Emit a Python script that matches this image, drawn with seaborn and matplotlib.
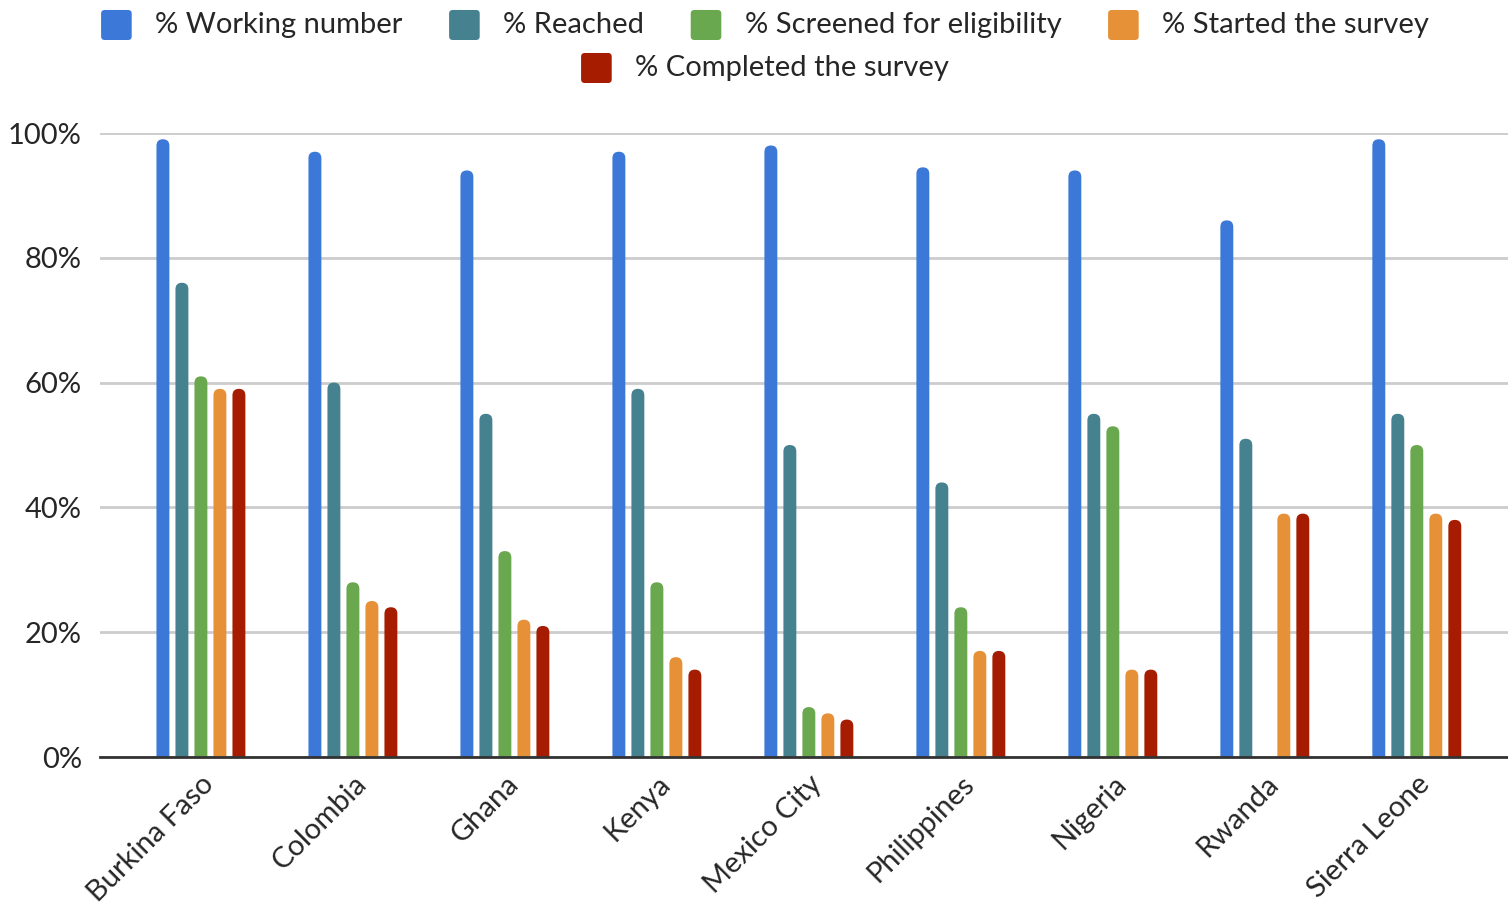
import numpy as np
import pandas as pd
import matplotlib
matplotlib.use("Agg")
import matplotlib.pyplot as plt
import seaborn as sns
from matplotlib.patches import FancyBboxPatch, Patch
from matplotlib.legend_handler import HandlerPatch

countries = ["Burkina Faso", "Colombia", "Ghana", "Kenya", "Mexico City",
             "Philippines", "Nigeria", "Rwanda", "Sierra Leone"]
series = ["% Working number", "% Reached", "% Screened for eligibility",
          "% Started the survey", "% Completed the survey"]

working = [99, 97, 94, 97, 98, 94.5, 94, 86, 99]
reached = [76, 60, 55, 59, 50, 44, 55, 51, 55]
screened = [61, 28, 33, 28, 8, 24, 53, np.nan, 50]
started = [59, 25, 22, 16, 7, 17, 14, 39, 39]
completed = [59, 24, 21, 14, 6, 17, 14, 39, 38]

colors = ["#3c78d8", "#45818e", "#6aa84f", "#e69138", "#a61c00"]

values = [working, reached, screened, started, completed]
df = pd.DataFrame({
    "country": np.repeat([countries], len(series), axis=0).ravel(),
    "series": np.repeat(series, len(countries)),
    "value": np.concatenate(values),
})

sns.set_theme(style="white")
plt.rcParams["font.family"] = ["Lato", "DejaVu Sans"]
text_color = "#262626"

fig = plt.figure(figsize=(15.08, 9.10), dpi=100)
ax = fig.add_axes([100 / 1508, 1 - 757 / 910, 1408 / 1508, (757 - 133) / 910])

sns.barplot(data=df, x="country", y="value", hue="series", order=countries,
            hue_order=series, palette=colors, width=0.625, gap=0.32,
            legend=False, ax=ax, saturation=1)

ax.set_xlim(-0.664, 8.6)
ax.set_ylim(0, 100)

# round off the top of each bar
px_per_x = 152.0
px_per_y = 6.24
for bar in list(ax.patches):
    h = bar.get_height()
    if not np.isfinite(h) or h <= 0:
        bar.remove()
        continue
    x, w = bar.get_x(), bar.get_width()
    r_x = w / 2
    aspect = px_per_x / px_per_y
    r_y = r_x * aspect
    fb = FancyBboxPatch((x, -r_y), w, h + r_y,
                        boxstyle=f"round,pad=0,rounding_size={r_x}",
                        mutation_aspect=aspect,
                        facecolor=bar.get_facecolor(), edgecolor="none",
                        linewidth=0, zorder=3)
    bar.remove()
    ax.add_patch(fb)

ax.set_yticks([0, 20, 40, 60, 80, 100])
ax.set_yticklabels([f"{v}%" for v in [0, 20, 40, 60, 80, 100]])
ax.yaxis.grid(True, color="#cccccc", linewidth=2)
ax.set_axisbelow(True)
for s in ["left", "right", "top"]:
    ax.spines[s].set_visible(False)
ax.spines["bottom"].set_color("#333333")
ax.spines["bottom"].set_linewidth(2)
ax.spines["bottom"].set_zorder(5)

ax.tick_params(axis="y", length=0, pad=13, labelsize=21, labelcolor=text_color)
ax.tick_params(axis="x", length=0, pad=10, labelsize=21, labelcolor=text_color)
plt.setp(ax.get_xticklabels(), rotation=45, ha="right", rotation_mode="anchor")
ax.set_xlabel("")
ax.set_ylabel("")


class RoundedSquare(HandlerPatch):
    def create_artists(self, legend, orig_handle, xdescent, ydescent,
                       width, height, fontsize, trans):
        p = FancyBboxPatch((-xdescent, -ydescent - 0.15 * height), width,
                           height * 1.15,
                           boxstyle=f"round,pad=0,rounding_size={0.12 * width}",
                           facecolor=orig_handle.get_facecolor(),
                           edgecolor="none", transform=trans)
        return [p]


handles = [Patch(facecolor=c, edgecolor="none") for c in colors]
leg_kw = dict(frameon=False, fontsize=21, handlelength=1.05, handleheight=1.0,
              handletextpad=0.8, columnspacing=1.6, labelcolor=text_color,
              handler_map={Patch: RoundedSquare()})
leg1 = fig.legend(handles[:4], series[:4], loc="center", ncol=4,
                  bbox_to_anchor=(765 / 1508, 1 - 24 / 910), **leg_kw)
leg2 = fig.legend(handles[4:], series[4:], loc="center", ncol=1,
                  bbox_to_anchor=(765 / 1508, 1 - 67 / 910), **leg_kw)

fig.savefig("out.png", dpi=100)
